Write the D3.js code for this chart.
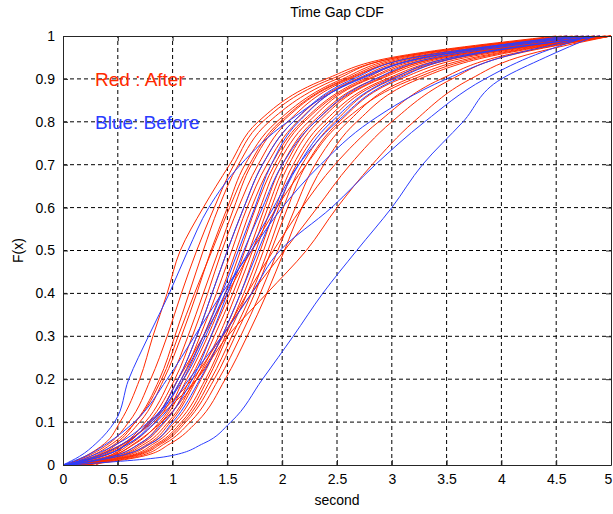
<!DOCTYPE html>
<html>
<head>
<meta charset="utf-8">
<script src="https://cdn.jsdelivr.net/npm/d3@7"></script>
<style>
  body { margin: 0; background: #fff; }
  svg text { font-family: "Liberation Sans", Arial, sans-serif; }
</style>
</head>
<body>
<div id="chart"></div>
<script>
// F(x) levels at which each curve's x position was read
const levels = [0, 0.02, 0.05, 0.1, 0.2, 0.3, 0.4, 0.5, 0.6, 0.7, 0.8, 0.9, 0.95, 1];

// red curves (After): x (second) at each F level
const redCurves = [
  [0.03, 0.20, 0.38, 0.52, 0.70, 0.82, 0.95, 1.07, 1.28, 1.52, 1.78, 2.40, 3.00, 4.50],
  [0.02, 0.22, 0.42, 0.60, 0.80, 0.95, 1.08, 1.22, 1.38, 1.56, 1.82, 2.45, 3.05, 4.55],
  [0.04, 0.28, 0.48, 0.66, 0.88, 1.02, 1.15, 1.28, 1.42, 1.60, 1.88, 2.50, 3.05, 4.60],
  [0.04, 0.30, 0.50, 0.70, 0.92, 1.08, 1.22, 1.35, 1.50, 1.66, 1.95, 2.55, 3.10, 4.60],
  [0.05, 0.25, 0.45, 0.66, 0.90, 1.05, 1.20, 1.36, 1.52, 1.70, 1.98, 2.58, 3.15, 4.65],
  [0.05, 0.32, 0.55, 0.75, 0.98, 1.14, 1.28, 1.42, 1.56, 1.72, 2.00, 2.60, 3.20, 4.70],
  [0.06, 0.36, 0.58, 0.78, 1.02, 1.18, 1.32, 1.45, 1.60, 1.78, 2.05, 2.62, 3.20, 4.70],
  [0.05, 0.34, 0.56, 0.80, 1.05, 1.22, 1.36, 1.50, 1.65, 1.82, 2.10, 2.68, 3.25, 4.75],
  [0.08, 0.40, 0.62, 0.84, 1.08, 1.25, 1.40, 1.54, 1.68, 1.86, 2.14, 2.70, 3.30, 4.80],
  [0.07, 0.42, 0.66, 0.88, 1.10, 1.28, 1.44, 1.58, 1.72, 1.90, 2.18, 2.75, 3.30, 4.85],
  [0.10, 0.45, 0.70, 0.90, 1.13, 1.32, 1.48, 1.62, 1.76, 1.93, 2.20, 2.78, 3.35, 4.85],
  [0.09, 0.48, 0.72, 0.93, 1.16, 1.35, 1.52, 1.66, 1.80, 1.96, 2.24, 2.80, 3.40, 4.90],
  [0.12, 0.50, 0.75, 0.96, 1.20, 1.38, 1.55, 1.70, 1.84, 2.00, 2.28, 2.85, 3.45, 4.90],
  [0.10, 0.52, 0.78, 0.98, 1.22, 1.42, 1.58, 1.73, 1.87, 2.03, 2.30, 2.88, 3.45, 4.95],
  [0.14, 0.55, 0.80, 1.02, 1.26, 1.45, 1.62, 1.76, 1.90, 2.06, 2.33, 2.90, 3.50, 4.95],
  [0.12, 0.58, 0.83, 1.05, 1.30, 1.48, 1.65, 1.80, 1.94, 2.10, 2.38, 2.95, 3.55, 4.97],
  [0.15, 0.60, 0.86, 1.08, 1.32, 1.50, 1.68, 1.83, 1.97, 2.13, 2.42, 2.98, 3.60, 5.00],
  [0.16, 0.62, 0.88, 1.10, 1.35, 1.54, 1.72, 1.87, 2.01, 2.18, 2.48, 3.02, 3.62, 5.00],
  [0.18, 0.64, 0.90, 1.12, 1.38, 1.57, 1.75, 1.90, 2.05, 2.22, 2.52, 3.08, 3.68, 5.00],
  [0.20, 0.68, 0.93, 1.16, 1.42, 1.62, 1.80, 1.96, 2.12, 2.30, 2.60, 3.15, 3.75, 5.00],
  [0.22, 0.72, 0.98, 1.22, 1.48, 1.68, 1.86, 2.02, 2.18, 2.38, 2.68, 3.25, 3.85, 5.00],
  [0.10, 0.30, 0.55, 0.80, 1.05, 1.28, 1.50, 1.72, 1.95, 2.22, 2.55, 3.20, 3.80, 5.00],
  [0.22, 0.45, 0.65, 0.90, 1.22, 1.46, 1.68, 1.92, 2.18, 2.48, 2.88, 3.45, 3.95, 5.00],
  [0.25, 0.42, 0.58, 0.80, 1.18, 1.45, 1.72, 2.02, 2.32, 2.62, 3.00, 3.55, 4.00, 5.00],
  [0.30, 0.45, 0.58, 0.82, 1.22, 1.50, 1.86, 2.22, 2.50, 2.82, 3.20, 3.72, 4.15, 5.00]
];

// blue curves (Before)
const blueCurves = [
  [0.05, 0.95, 1.28, 1.53, 1.82, 2.10, 2.37, 2.68, 3.00, 3.28, 3.65, 4.00, 4.40, 4.85],
  [0.00, 0.35, 0.60, 0.85, 1.15, 1.45, 1.72, 1.98, 2.45, 2.85, 3.30, 3.85, 4.25, 4.80],
  [0.00, 0.15, 0.30, 0.47, 0.60, 0.78, 0.97, 1.14, 1.33, 1.62, 2.05, 2.72, 3.30, 4.60],
  [0.02, 0.30, 0.55, 0.80, 1.05, 1.22, 1.36, 1.50, 1.65, 1.82, 2.10, 2.65, 3.20, 4.70],
  [0.05, 0.45, 0.70, 0.92, 1.18, 1.35, 1.50, 1.65, 1.82, 2.00, 2.30, 2.85, 3.40, 4.80],
  [0.03, 0.25, 0.50, 0.78, 1.10, 1.30, 1.48, 1.70, 1.92, 2.15, 2.50, 3.05, 3.60, 4.90],
  [0.06, 0.50, 0.80, 1.00, 1.25, 1.45, 1.62, 1.78, 1.95, 2.15, 2.45, 3.00, 3.55, 4.90],
  [0.00, 0.20, 0.40, 0.65, 0.95, 1.20, 1.45, 1.72, 2.00, 2.35, 2.80, 3.50, 4.00, 4.85],
  [0.04, 0.35, 0.60, 0.82, 1.08, 1.28, 1.45, 1.60, 1.75, 1.90, 2.15, 2.70, 3.30, 4.75]
];

const xTicks = [0, 0.5, 1, 1.5, 2, 2.5, 3, 3.5, 4, 4.5, 5];
const yTicks = [0, 0.1, 0.2, 0.3, 0.4, 0.5, 0.6, 0.7, 0.8, 0.9, 1];

const width = 613, height = 514;
const margin = { top: 36, right: 2, bottom: 49, left: 63 };
const plotW = width - margin.left - margin.right,
      plotH = height - margin.top - margin.bottom;

const svg = d3.select('#chart').append('svg')
    .attr('width', width)
    .attr('height', height);

const x = d3.scaleLinear().domain([0, 5]).range([margin.left, margin.left + plotW]);
const y = d3.scaleLinear().domain([0, 1]).range([margin.top + plotH, margin.top]);

// grid
const grid = svg.append('g').attr('class', 'grid');
grid.selectAll('.gx')
    .data(xTicks.slice(1, -1))
    .join('line')
    .attr('x1', d => x(d)).attr('x2', d => x(d))
    .attr('y1', y(0)).attr('y2', y(1))
    .attr('stroke', '#000')
    .attr('stroke-dasharray', '4,3');
grid.selectAll('.gy')
    .data(yTicks.slice(1, -1))
    .join('line')
    .attr('x1', x(0)).attr('x2', x(5))
    .attr('y1', d => y(d)).attr('y2', d => y(d))
    .attr('stroke', '#000')
    .attr('stroke-dasharray', '4,3');

// curves
const line = d3.line()
    .x(d => x(d[0]))
    .y(d => y(d[1]))
    .curve(d3.curveMonotoneY);

const toPoints = xs => xs.map((v, i) => [v, levels[i]]);

const plot = svg.append('g');
plot.selectAll('.red')
    .data(redCurves)
    .join('path')
    .attr('class', 'red')
    .attr('d', d => line(toPoints(d)))
    .attr('fill', 'none')
    .attr('stroke', '#ff2a00')
    .attr('stroke-width', 1);
plot.selectAll('.blue')
    .data(blueCurves)
    .join('path')
    .attr('class', 'blue')
    .attr('d', d => line(toPoints(d)))
    .attr('fill', 'none')
    .attr('stroke', '#2a3cff')
    .attr('stroke-width', 1);

// axes (box with inward ticks)
const axisColor = '#262626';
const xAxis = svg.append('g')
    .attr('transform', `translate(0,${y(0)})`)
    .call(d3.axisBottom(x).tickValues(xTicks).tickFormat(d3.format('')).tickSizeInner(-5).tickSizeOuter(0).tickPadding(9));
const yAxis = svg.append('g')
    .attr('transform', `translate(${x(0)},0)`)
    .call(d3.axisLeft(y).tickValues(yTicks).tickFormat(d3.format('')).tickSizeInner(-5).tickSizeOuter(0).tickPadding(8));
svg.append('g')
    .attr('transform', `translate(0,${y(1)})`)
    .call(d3.axisTop(x).tickValues(xTicks).tickFormat('').tickSizeInner(-5).tickSizeOuter(0));
svg.append('g')
    .attr('transform', `translate(${x(5)},0)`)
    .call(d3.axisRight(y).tickValues(yTicks).tickFormat('').tickSizeInner(-5).tickSizeOuter(0));

svg.selectAll('.domain, .tick line').attr('stroke', axisColor);
svg.selectAll('.tick text').attr('fill', '#000').attr('font-size', 14);
// keep the last x label inside the window
xAxis.selectAll('.tick text').filter(d => d === 5).attr('dx', -3);

// titles
svg.append('text')
    .attr('x', x(2.5)).attr('y', 17)
    .attr('text-anchor', 'middle')
    .attr('font-size', 14)
    .text('Time Gap CDF');
svg.append('text')
    .attr('x', x(2.5)).attr('y', 505)
    .attr('text-anchor', 'middle')
    .attr('font-size', 14)
    .text('second');
svg.append('text')
    .attr('transform', `translate(23,${y(0.5)}) rotate(-90)`)
    .attr('text-anchor', 'middle')
    .attr('font-size', 14)
    .text('F(x)');

// annotations
svg.append('text')
    .attr('x', 95).attr('y', 86)
    .attr('font-size', 19)
    .attr('fill', '#ff2a00')
    .text('Red : After');
svg.append('text')
    .attr('x', 95).attr('y', 129)
    .attr('font-size', 19)
    .attr('fill', '#2a3cff')
    .text('Blue: Before');
</script>
</body>
</html>
